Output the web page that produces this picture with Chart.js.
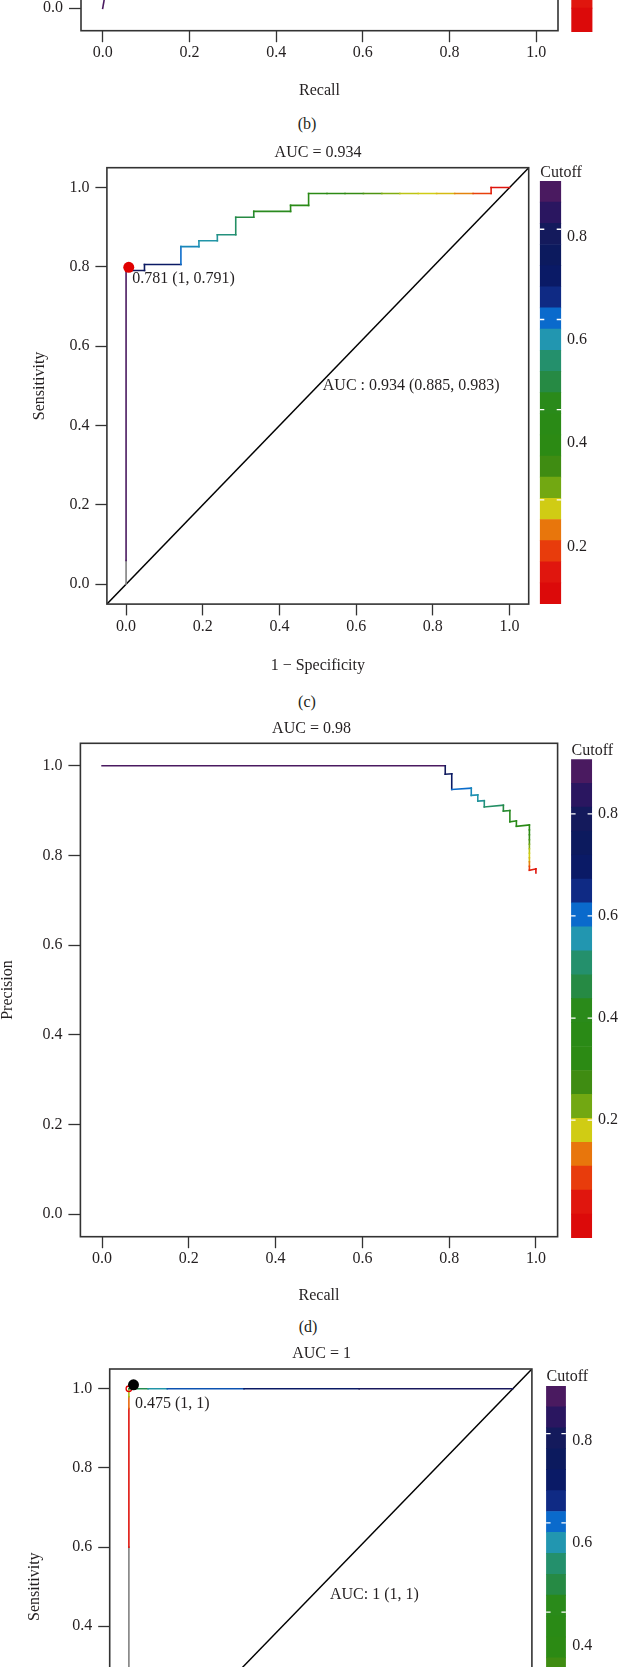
<!DOCTYPE html>
<html><head><meta charset="utf-8">
<script src="https://cdn.jsdelivr.net/npm/chart.js@4.4.1/dist/chart.umd.min.js"></script>
<style>
html,body{margin:0;padding:0;background:#fff;}
body{width:621px;height:1667px;overflow:hidden;position:relative;}
canvas{position:absolute;}
.cap{position:absolute;font:16px 'Liberation Serif',serif;color:#231f20;transform:translate(-50%,-50%);white-space:nowrap;}
</style></head><body>
<div class="cap" style="left:307px;top:124px">(b)</div>
<div class="cap" style="left:307px;top:702px">(c)</div>
<div class="cap" style="left:308px;top:1327px">(d)</div>
<script>
// ---------- shared axis / colour-bar data ----------
const axisTicks = [0, 0.2, 0.4, 0.6, 0.8, 1.0];
const axisRange = [-0.05, 1.05];
const cbTickValues = [0.2, 0.4, 0.6, 0.8];
// colour bar segments, bottom -> top
const cbColors = ['#dc0a0a','#e0160e','#e83c0c','#e8760c','#d0cc14','#72a812','#3f8c12','#2c8a14','#2a8a16','#2a8a1a',
                  '#268a44','#24906c','#2296b0','#0a6acc','#0f2a84','#0a1a66','#0c1a5e','#141a5c','#2a1660','#4a1a60'];
const cbRange = [-0.031, 0.907];        // cutoff range of the colour scale
const cbLabelRangeShift = [0.0885, 0.908]; // label placement used in panels (c) and (e)

// ---------- panel (b): precision-recall, only the bottom is visible ----------
const bRecall = [0, 0.02];
const bPrecision = [0, 0.11];
const bCutoff = [0.9, 0.9];

// ---------- panel (c): ROC ----------
const cFpr = [0, 0, 0, 0.048, 0.048, 0.143, 0.143, 0.190, 0.190, 0.238, 0.238, 0.286, 0.286, 0.333, 0.333, 0.429, 0.429,
              0.476, 0.476, 0.524, 0.571, 0.619, 0.667, 0.714, 0.762, 0.810, 0.857, 0.905, 0.952, 0.952, 1.0];
const cTpr = [0, 0.06, 0.791, 0.791, 0.806, 0.806, 0.851, 0.851, 0.866, 0.866, 0.881, 0.881, 0.925, 0.925, 0.940, 0.940, 0.955,
              0.955, 0.985, 0.985, 0.985, 0.985, 0.985, 0.985, 0.985, 0.985, 0.985, 0.985, 0.985, 1.0, 1.0];
const cCutoff = [null, 0.90, 0.781, 0.74, 0.70, 0.60, 0.57, 0.56, 0.55, 0.54, 0.52, 0.50, 0.46, 0.44, 0.42, 0.40, 0.38,
                 0.37, 0.35, 0.33, 0.30, 0.26, 0.22, 0.19, 0.18, 0.17, 0.14, 0.09, 0.05, 0.03, 0.02];
const cBestX = [0.007], cBestY = [0.799];

// ---------- panel (d): precision-recall ----------
const dRecall = [0, 0.791, 0.791, 0.806, 0.806, 0.851, 0.851, 0.866, 0.866, 0.881, 0.881, 0.925, 0.925, 0.940, 0.940, 0.955, 0.955,
                 0.985, 0.985, 0.985, 0.985, 0.985, 0.985, 0.985, 0.985, 0.985, 0.985, 0.985, 1.0, 1.0];
const dPrecision = [1, 1, 0.981, 0.982, 0.947, 0.950, 0.934, 0.935, 0.921, 0.922, 0.908, 0.912, 0.899, 0.900, 0.875, 0.877, 0.865,
                    0.868, 0.857, 0.846, 0.835, 0.825, 0.815, 0.805, 0.795, 0.786, 0.776, 0.767, 0.770, 0.761];
const dCutoff = [0.90, 0.781, 0.74, 0.70, 0.60, 0.57, 0.56, 0.55, 0.54, 0.52, 0.50, 0.46, 0.44, 0.42, 0.40, 0.38, 0.37,
                 0.35, 0.33, 0.30, 0.26, 0.22, 0.19, 0.18, 0.17, 0.14, 0.09, 0.05, 0.03, 0.02];

// ---------- panel (e): ROC ----------
const eFpr = [0, 0, 0, 0, 0, 0.05, 0.1, 0.3, 0.6, 1.0];
const eTpr = [0, 0.6, 0.95, 0.98, 1.0, 1.0, 1.0, 1.0, 1.0, 1.0];
const eCutoff = [null, 0.03, 0.12, 0.2, 0.475, 0.55, 0.62, 0.7, 0.8, 0.88];
const eBestX = [0.012], eBestY = [1.01];
const eThrX = [0], eThrY = [1.0];

// ---------- helpers ----------
Chart.defaults.font.family = "'Liberation Serif', 'Times New Roman', serif";
Chart.defaults.font.size = 16;
Chart.defaults.color = '#231f20';
const HL = 9.6; // half line height of 16px text

function hexToRgb(h){ return [parseInt(h.slice(1,3),16), parseInt(h.slice(3,5),16), parseInt(h.slice(5,7),16)]; }
function cutColor(v){
  if (v === null || v === undefined) return '#808080';
  let t = (v - cbRange[0]) / (cbRange[1] - cbRange[0]) * cbColors.length - 0.5;
  t = Math.max(0, Math.min(cbColors.length - 1, t));
  const i = Math.floor(t), j = Math.min(i + 1, cbColors.length - 1), f = t - i;
  const a = hexToRgb(cbColors[i]), b = hexToRgb(cbColors[j]);
  return 'rgb(' + a.map((c, k) => Math.round(c + (b[k] - c) * f)).join(',') + ')';
}
function zeroPad(s){ s.paddingTop = 0; s.paddingBottom = 0; s.paddingLeft = 0; s.paddingRight = 0; }
function makeCanvas(x, y, w, h){
  const c = document.createElement('canvas');
  c.width = w; c.height = h;
  c.style.left = x + 'px'; c.style.top = y + 'px';
  c.style.width = w + 'px'; c.style.height = h + 'px';
  document.body.appendChild(c);
  return c;
}
const plotBox = {
  id: 'plotbox',
  afterDatasetsDraw(chart, args, o){
    if (!o || !o.on) return;
    const a = chart.chartArea, ctx = chart.ctx;
    ctx.save(); ctx.strokeStyle = '#333'; ctx.lineWidth = 1.6;
    ctx.strokeRect(a.left, a.top, a.right - a.left, a.bottom - a.top);
    ctx.restore();
  }
};
const rText = {
  id: 'rtext',
  afterDraw(chart, args, o){
    if (!o || !o.items) return;
    const ctx = chart.ctx;
    for (const it of o.items){
      let x, y;
      if (it.data){ x = chart.scales.x.getPixelForValue(it.x); y = chart.scales.y.getPixelForValue(it.y); }
      else { x = it.x - o.ox; y = it.y - o.oy; }
      ctx.save();
      ctx.font = "16px 'Liberation Serif', serif";
      ctx.fillStyle = '#231f20';
      ctx.textAlign = it.align || 'center';
      ctx.textBaseline = 'middle';
      ctx.fillText(it.t, x, y);
      ctx.restore();
    }
  }
};
const cbDash = {
  id: 'cbdash',
  afterDatasetsDraw(chart, args, o){
    if (!o || !o.range) return;
    const a = chart.chartArea, ctx = chart.ctx;
    ctx.save(); ctx.strokeStyle = '#ffffff'; ctx.lineWidth = 1.3;
    for (const v of cbTickValues){
      const y = a.top + (o.range[1] - v) / (o.range[1] - o.range[0]) * (a.bottom - a.top);
      ctx.beginPath();
      ctx.moveTo(a.left, y); ctx.lineTo(a.left + 4.5, y);
      ctx.moveTo(a.right - 4.5, y); ctx.lineTo(a.right, y);
      ctx.stroke();
    }
    ctx.restore();
  }
};
Chart.register(plotBox, rText, cbDash);

function curveDataset(xs, ys, cuts){
  return {
    data: xs.map((x, i) => ({x: x, y: ys[i]})),
    borderWidth: 1.6, pointRadius: 0, tension: 0, fill: false, order: 1,
    borderCapStyle: 'square',
    borderColor: cutColor(cuts[0]),
    segment: { borderColor: ctx => cutColor(cuts[ctx.p0DataIndex]) }
  };
}
function diagDataset(){
  return { data: axisRange.map(v => ({x: v, y: v})), borderColor: '#000', borderWidth: 1.4,
           pointRadius: 0, fill: false, order: 2 };
}
function dotDataset(xs, ys, color, r, hollow){
  return { data: xs.map((x, i) => ({x: x, y: ys[i]})), showLine: false, order: 0,
           pointRadius: r, pointBackgroundColor: hollow ? 'rgba(0,0,0,0)' : color,
           pointBorderColor: color, pointBorderWidth: hollow ? 1.3 : 0 };
}

function mainPanel(g){
  const cv = makeCanvas(g.cx, g.cy, g.cw, g.ch);
  const xH = g.cy + g.ch - g.B;
  const yW = g.L - g.cx;
  return new Chart(cv, {
    type: 'line',
    data: { datasets: g.datasets },
    options: {
      responsive: false, animation: false, devicePixelRatio: 1,
      layout: { padding: { left: 0, top: g.T - g.cy, right: g.cx + g.cw - g.R, bottom: 0 } },
      scales: {
        x: {
          type: 'linear', min: axisRange[0], max: axisRange[1],
          afterBuildTicks: s => { s.ticks = axisTicks.map(v => ({value: v})); },
          afterFit: s => { s.height = xH; zeroPad(s); },
          ticks: { padding: g.xLabY - g.B - g.xTick - HL, maxRotation: 0, autoSkip: false,
                   callback: v => Number(v).toFixed(1) },
          grid: { drawOnChartArea: false, tickLength: g.xTick, tickColor: '#333', tickWidth: 1.3 },
          border: { display: false },
          title: { display: true, text: g.xTitle, padding: { top: 0, bottom: g.cy + g.ch - g.xTitleY - HL } }
        },
        y: {
          type: 'linear', min: axisRange[0], max: axisRange[1],
          afterBuildTicks: s => { s.ticks = axisTicks.map(v => ({value: v})); },
          afterFit: s => { s.width = yW; zeroPad(s); },
          ticks: { padding: g.L - g.yTick - g.yLabR, autoSkip: false, callback: v => Number(v).toFixed(1) },
          grid: { drawOnChartArea: false, tickLength: g.yTick, tickColor: '#333', tickWidth: 1.3 },
          border: { display: false },
          title: { display: true, text: g.yTitle, padding: { top: g.yTitleX - g.cx - HL, bottom: 0 } }
        }
      },
      plugins: { legend: { display: false }, tooltip: { enabled: false },
                 plotbox: { on: true }, rtext: { ox: g.cx, oy: g.cy, items: g.texts } }
    }
  });
}

function colorBar(g){
  const cx = Math.floor(g.L - 10), cy = Math.floor(g.T - 30);
  const cw = 621 - cx, ch = Math.ceil(g.B + 20 - cy);
  const cv = makeCanvas(cx, cy, cw, ch);
  return new Chart(cv, {
    type: 'bar',
    data: { labels: ['Cutoff'],
            datasets: cbColors.map(c => ({ data: [1], backgroundColor: c, borderWidth: 0,
                                           barPercentage: 1, categoryPercentage: 1 })) },
    options: {
      responsive: false, animation: false, devicePixelRatio: 1,
      layout: { padding: { left: g.L - cx, top: g.T - cy, right: 0, bottom: cy + ch - g.B } },
      scales: {
        x: { display: false, stacked: true, afterFit: zeroPad },
        y: { display: false, stacked: true, min: 0, max: cbColors.length, afterFit: zeroPad },
        lab: {
          type: 'linear', position: 'right', min: g.labRange[0], max: g.labRange[1],
          afterBuildTicks: s => { s.ticks = cbTickValues.map(v => ({value: v})); },
          afterFit: s => { s.width = cx + cw - g.R; zeroPad(s); },
          ticks: { padding: g.gap, callback: v => Number(v).toFixed(1) },
          grid: { display: false, drawTicks: false },
          border: { display: false }
        }
      },
      plugins: { legend: { display: false }, tooltip: { enabled: false },
                 cbdash: { range: cbRange },
                 rtext: { ox: cx, oy: cy, items: g.cutY === null ? [] : [{ t: 'Cutoff', x: g.L + 0.5, y: g.cutY, align: 'left' }] } }
    }
  });
}

// ---------- panel (b) ----------
mainPanel({ cx: -10, cy: -500, cw: 580, ch: 610, L: 81, R: 558, T: -462.7, B: 30.7,
  xTick: 11.5, yTick: 12, yLabR: 63, xLabY: 53, xTitle: 'Recall', xTitleY: 91,
  yTitle: 'Precision', yTitleX: 8,
  datasets: [ curveDataset(bRecall, bPrecision, bCutoff) ], texts: [] });
colorBar({ L: 571.3, R: 592.5, T: -446.7, B: 32, gap: 5.9, labRange: cbRange, cutY: null });

// ---------- panel (c) ----------
mainPanel({ cx: 0, cy: 130, cw: 540, ch: 570, L: 106.9, R: 528.7, T: 167.7, B: 604.1,
  xTick: 11.3, yTick: 11.5, yLabR: 89.5, xLabY: 626.5, xTitle: '1 \u2212 Specificity', xTitleY: 666,
  yTitle: 'Sensitivity', yTitleX: 39.6,
  datasets: [ dotDataset(cBestX, cBestY, '#e00000', 5.5, false), curveDataset(cFpr, cTpr, cCutoff), diagDataset() ],
  texts: [ { t: 'AUC = 0.934', x: 318, y: 152.3 },
           { t: '0.781 (1, 0.791)', data: true, x: 0.016, y: 0.77, align: 'left' },
           { t: 'AUC : 0.934 (0.885, 0.983)', data: true, x: 0.513, y: 0.499, align: 'left' } ] });
colorBar({ L: 539.8, R: 561.2, T: 181, B: 604.1, gap: 5.8, labRange: cbLabelRangeShift, cutY: 172.3 });

// ---------- panel (d) ----------
mainPanel({ cx: -10, cy: 705, cw: 580, ch: 605, L: 80.4, R: 557.6, T: 743.3, B: 1236.7,
  xTick: 11.5, yTick: 12, yLabR: 62.6, xLabY: 1258.5, xTitle: 'Recall', xTitleY: 1296,
  yTitle: 'Precision', yTitleX: 8,
  datasets: [ curveDataset(dRecall, dPrecision, dCutoff) ],
  texts: [ { t: 'AUC = 0.98', x: 311.5, y: 729 } ] });
colorBar({ L: 571.1, R: 592.1, T: 759.3, B: 1238, gap: 5.9, labRange: cbRange, cutY: 750.7 });

// ---------- panel (e) ----------
mainPanel({ cx: 0, cy: 1330, cw: 545, ch: 560, L: 109.7, R: 531.9, T: 1369, B: 1804.3,
  xTick: 11.3, yTick: 11.5, yLabR: 92.3, xLabY: 1826, xTitle: '1 \u2212 Specificity', xTitleY: 1865,
  yTitle: 'Sensitivity', yTitleX: 34.9,
  datasets: [ dotDataset(eBestX, eBestY, '#000000', 5.5, false), dotDataset(eThrX, eThrY, '#e00000', 2.8, true),
              curveDataset(eFpr, eTpr, eCutoff), diagDataset() ],
  texts: [ { t: 'AUC = 1', x: 321.6, y: 1354 },
           { t: '0.475 (1, 1)', data: true, x: 0.016, y: 0.961, align: 'left' },
           { t: 'AUC: 1 (1, 1)', data: true, x: 0.524, y: 0.479, align: 'left' } ] });
colorBar({ L: 546.1, R: 565.9, T: 1386, B: 1804.3, gap: 6.4, labRange: cbLabelRangeShift, cutY: 1376.7 });
</script>
</body></html>
